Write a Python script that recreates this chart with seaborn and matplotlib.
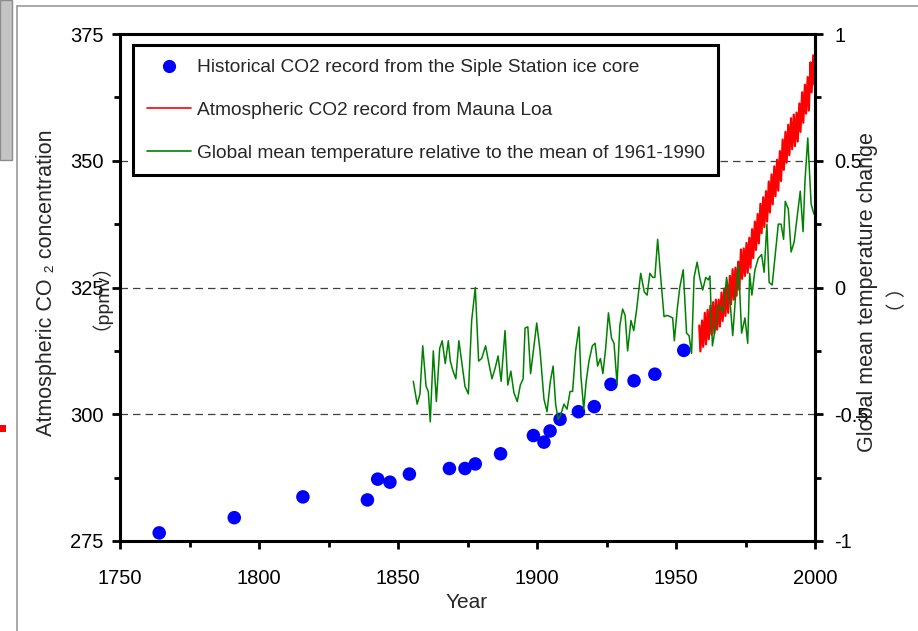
import matplotlib
matplotlib.use("Agg")
import matplotlib.pyplot as plt
import seaborn as sns
import pandas as pd
from matplotlib.patches import Rectangle
from matplotlib.lines import Line2D
from matplotlib.ticker import MultipleLocator, FixedLocator, FixedFormatter

# ---------------- data ----------------
siple_year = [1764.1, 1791.1, 1815.8, 1839.0, 1842.7, 1847.1, 1854.1, 1868.5, 1874.1, 1877.8,
              1886.9, 1898.7, 1902.5, 1904.7, 1908.3, 1914.9, 1920.6, 1926.6, 1934.9, 1942.4, 1952.8]
siple_co2 = [276.6, 279.6, 283.7, 283.1, 287.2, 286.6, 288.2, 289.3, 289.3, 290.2,
             292.2, 295.8, 294.5, 296.7, 299.0, 300.5, 301.5, 305.9, 306.6, 307.9, 312.6]

mauna_year = [1958, 1959, 1960, 1961, 1962, 1963, 1964, 1965, 1966, 1967, 1968, 1969, 1970,
              1971, 1972, 1973, 1974, 1975, 1976, 1977, 1978, 1979, 1980, 1981, 1982, 1983,
              1984, 1985, 1986, 1987, 1988, 1989, 1990, 1991, 1992, 1993, 1994, 1995, 1996,
              1997, 1998, 1999, 2000]
mauna_max = [317.5, 318.5, 320.0, 320.6, 321.4, 322.1, 322.6, 322.6, 324.0, 324.8, 325.7, 327.3, 328.6,
             328.9, 330.1, 332.5, 332.7, 333.8, 334.8, 336.5, 338.0, 339.5, 341.5, 342.8, 344.0, 345.9,
             347.3, 348.9, 350.2, 351.9, 354.2, 355.7, 357.1, 358.4, 359.1, 359.5, 361.3, 363.5, 365.0,
             366.5, 369.4, 370.8, 371.8]
mauna_min = [312.4, 313.3, 313.8, 314.8, 315.7, 316.0, 316.7, 317.3, 318.4, 319.4, 320.0, 321.7, 322.6,
             323.4, 324.5, 326.7, 327.3, 327.9, 328.9, 330.8, 332.4, 333.7, 335.7, 336.9, 338.0, 339.8,
             341.4, 343.0, 344.1, 346.0, 348.2, 349.6, 351.1, 352.3, 352.9, 353.8, 355.7, 357.5, 359.3,
             359.9, 363.5, 365.0, 366.9]

temp_year = [1855.5, 1856.9, 1857.9, 1858.9, 1860.1, 1860.9, 1861.6, 1862.7, 1863.8, 1865.0,
             1865.9, 1867.0, 1868.1, 1868.8, 1869.8, 1870.8, 1871.9, 1873.0,
             1874.1, 1875.3, 1876.5, 1877.8, 1879.0, 1880.1, 1881.5, 1882.7, 1883.8, 1884.9,
             1886.0, 1887.1, 1888.5, 1889.5, 1890.6, 1891.7, 1892.9, 1894.0, 1895.0, 1895.7,
             1896.7, 1897.7, 1898.8, 1899.9, 1901.1, 1902.5, 1903.6, 1904.8, 1905.8, 1906.7,
             1907.6, 1908.6, 1909.7, 1910.8, 1911.9, 1912.8, 1913.9, 1915.1, 1915.8, 1916.8,
             1917.7, 1918.7, 1919.9, 1920.9, 1921.8, 1922.8, 1923.7, 1924.7, 1925.7, 1926.8,
             1927.7, 1928.8, 1929.8, 1930.8, 1931.7, 1932.6, 1933.8, 1934.8, 1935.8, 1937.3,
             1938.6, 1939.6, 1940.6, 1941.6, 1942.4, 1943.4, 1944.5, 1945.7, 1946.8, 1947.9,
             1948.8, 1949.4, 1950.5, 1951.4, 1952.6, 1953.8, 1954.7, 1955.6, 1956.5, 1957.6,
             1958.6, 1959.6, 1960.7, 1961.6, 1962.2, 1963.1, 1964.0, 1965.2, 1966.1, 1967.0,
             1968.2, 1969.4, 1970.4, 1971.6, 1972.5, 1973.6, 1974.8, 1975.8, 1976.5, 1977.3,
             1978.4, 1979.6, 1980.8, 1981.7, 1982.7, 1983.5, 1984.6, 1985.6, 1986.8, 1987.8,
             1988.7, 1989.3, 1990.4, 1991.4, 1992.5, 1993.5, 1994.7, 1995.7, 1996.4, 1997.4,
             1998.6, 1999.6]
temp_anom = [-0.37, -0.46, -0.42, -0.23, -0.39, -0.41, -0.53, -0.25, -0.45, -0.24,
             -0.21, -0.30, -0.21, -0.29, -0.33, -0.36, -0.21, -0.30,
             -0.39, -0.42, -0.13, 0.00, -0.29, -0.28, -0.23, -0.30, -0.36, -0.32,
             -0.27, -0.37, -0.17, -0.385, -0.33, -0.415, -0.45, -0.385, -0.36, -0.16,
             -0.155, -0.34, -0.24, -0.14, -0.25, -0.44, -0.49, -0.37, -0.31, -0.46,
             -0.52, -0.50, -0.46, -0.48, -0.41, -0.41, -0.25, -0.155, -0.35, -0.48,
             -0.37, -0.29, -0.23, -0.22, -0.31, -0.28, -0.34, -0.24, -0.10, -0.20,
             -0.22, -0.38, -0.15, -0.085, -0.11, -0.25, -0.13, -0.17, -0.09, 0.056,
             -0.017, -0.03, 0.056, 0.04, 0.04, 0.19, 0.04, -0.115, -0.11, -0.115,
             -0.12, -0.21, -0.08, 0.003, 0.07, -0.18, -0.19, -0.26, 0.04, 0.10,
             0.035, -0.01, 0.04, 0.03, 0.045, -0.23, -0.17, -0.07, -0.08, -0.095,
             0.04, -0.05, -0.19, -0.01, 0.09, -0.18, -0.12, -0.22, 0.056, -0.03,
             0.07, 0.115, 0.13, 0.06, 0.25, 0.02, 0.01, 0.12, 0.25, 0.25,
             0.19, 0.34, 0.31, 0.14, 0.18, 0.27, 0.38, 0.22, 0.42, 0.59,
             0.33, 0.29]

x_ticks = [1750, 1800, 1850, 1900, 1950, 2000]
co2_ticks = [275, 300, 325, 350, 375]
temp_ticks = [-1, -0.5, 0, 0.5, 1]
temp_tick_labels = ["-1", "-0.5", "0", "0.5", "1"]

legend_labels = ["Historical CO2 record from the Siple Station ice core",
                 "Atmospheric CO2 record from Mauna Loa",
                 "Global mean temperature relative to the mean of 1961-1990"]

# seasonal max / min interleaved (May peak, October trough)
mauna_rows = []
for yr, hi, lo in zip(mauna_year, mauna_max, mauna_min):
    mauna_rows.append((yr + 0.37, hi))
    mauna_rows.append((yr + 0.78, lo))
mauna_df = pd.DataFrame(mauna_rows, columns=["year", "co2"])
siple_df = pd.DataFrame({"year": siple_year, "co2": siple_co2})
temp_df = pd.DataFrame({"year": temp_year, "anom": temp_anom})

# ---------------- style ----------------
sns.set_theme(style="ticks")
plt.rcParams['font.family'] = ['Liberation Sans', 'DejaVu Sans', 'Noto Sans CJK SC']
plt.rcParams['axes.unicode_minus'] = False

W, H = 918, 631
fig = plt.figure(figsize=(W / 100, H / 100), dpi=100)
fig.patch.set_facecolor("white")
ax = fig.add_axes([120 / W, 1 - 541 / H, 695 / W, 507 / H])

BLUE, RED, GREEN = "#0000FF", "#FF0000", "#008000"
TICK_FS = 14.5

sns.scatterplot(data=siple_df, x="year", y="co2", ax=ax, color=BLUE, s=95,
                edgecolor="none", linewidth=0, zorder=4, legend=False)
sns.lineplot(data=mauna_df, x="year", y="co2", ax=ax, color=RED, lw=1.6,
             estimator=None, sort=False, legend=False, zorder=3)

ax.set_xlim(1750, 2000)
ax.set_ylim(275, 375)
ax.xaxis.set_major_locator(FixedLocator(x_ticks))
ax.yaxis.set_major_locator(FixedLocator(co2_ticks))
ax.xaxis.set_minor_locator(MultipleLocator(25))
ax.yaxis.set_minor_locator(MultipleLocator(12.5))
ax.yaxis.grid(True, which="major", linestyle=(0, (6, 4)), color="#404040", lw=0.9)
ax.xaxis.grid(False)
ax.set_xlabel("")
ax.set_ylabel("")

ax.tick_params(axis="both", which="major", direction="out", length=6, width=2,
               labelsize=TICK_FS, colors="black")
ax.tick_params(axis="both", which="minor", direction="out", length=4, width=2, colors="black")
ax.tick_params(axis="x", which="major", pad=14)
ax.tick_params(axis="y", which="major", pad=6)
ax.tick_params(right=False, top=False, which="both")
for sp in ax.spines.values():
    sp.set_visible(True)
    sp.set_linewidth(2.2)
    sp.set_color("black")

ax2 = ax.twinx()
sns.lineplot(data=temp_df, x="year", y="anom", ax=ax2, color=GREEN, lw=1.1,
             estimator=None, sort=False, legend=False)
ax2.set_ylim(-1, 1)
ax2.yaxis.set_major_locator(FixedLocator(temp_ticks))
ax2.yaxis.set_major_formatter(FixedFormatter(temp_tick_labels))
ax2.yaxis.set_minor_locator(MultipleLocator(0.25))
ax2.set_ylabel("")
ax2.grid(False)
ax2.tick_params(axis="y", which="major", direction="out", length=6, width=2,
                labelsize=TICK_FS, colors="black", pad=8)
ax2.tick_params(axis="y", which="minor", direction="out", length=4, width=2, colors="black")
for name, sp in ax2.spines.items():
    sp.set_visible(name == "right")
    sp.set_linewidth(2.2)
    sp.set_color("black")

# axis titles
fig.text(467 / W, 1 - 603 / H, "Year", ha="center", va="center", fontsize=15)
fig.text(47 / W, 1 - 283 / H, "Atmospheric CO \u2082 concentration", rotation=90,
         ha="center", va="center", fontsize=15.5)
fig.text(90 / W, 1 - 287 / H, "\uff08ppmv\uff09", rotation=90,
         ha="center", va="center", fontsize=14)
fig.text(868 / W, 1 - 292 / H, "Global mean temperature change", rotation=90,
         ha="center", va="center", fontsize=15.5)
fig.text(898 / W, 1 - 300 / H, "\uff08 \uff09", rotation=90,
         ha="center", va="center", fontsize=14)

# legend
handles = [Line2D([], [], marker="o", ls="none", color=BLUE, markersize=9.5, markeredgewidth=0),
           Line2D([], [], color=RED, lw=1.2),
           Line2D([], [], color=GREEN, lw=1.2)]
leg = ax2.legend(handles, legend_labels, loc="upper left",
                 bbox_to_anchor=(133 / W, 1 - 45 / H), bbox_transform=fig.transFigure,
                 fontsize=13.8, frameon=True, fancybox=False, edgecolor="black",
                 handlelength=2.3, handletextpad=0.3, labelspacing=1.32,
                 borderpad=0.72, borderaxespad=0, framealpha=1)
leg.get_frame().set_linewidth(2.2)

# screenshot frame artefacts
fig.patches.append(Rectangle((0, 1 - 160 / H), 12 / W, 160 / H, transform=fig.transFigure,
                             facecolor="#c4c4c4", edgecolor="#8c8c8c", lw=1.0, zorder=10))
fig.lines.append(Line2D([17 / W, 17 / W], [0, 1 - 6 / H], transform=fig.transFigure,
                        color="#9a9a9a", lw=1.2))
fig.lines.append(Line2D([17 / W, 1], [1 - 6 / H, 1 - 6 / H], transform=fig.transFigure,
                        color="#9a9a9a", lw=1.2))
fig.patches.append(Rectangle((0, 1 - 432 / H), 6 / W, 7 / H, transform=fig.transFigure,
                             facecolor=RED, edgecolor="none", zorder=10))

fig.savefig("out.png", dpi=100)
